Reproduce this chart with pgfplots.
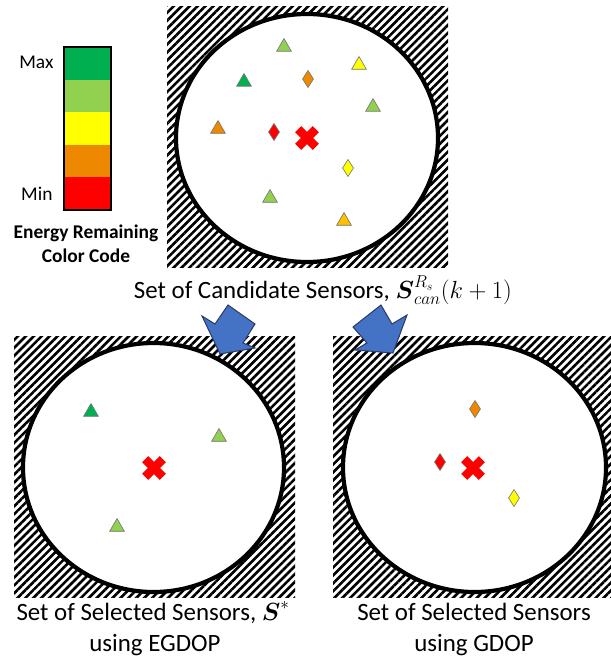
\documentclass[border=0pt]{standalone}
\usepackage{fontspec}
\setmainfont{Carlito}
\usepackage{amsmath,amssymb}
\usepackage{pgfplots}
\pgfplotsset{compat=1.18}
\usetikzlibrary{patterns.meta}

\definecolor{egreen}{HTML}{00B050}
\definecolor{elime}{HTML}{92D050}
\definecolor{eyellow}{HTML}{FFFF00}
\definecolor{eorange}{HTML}{EE8800}
\definecolor{eamber}{HTML}{FFC000}
\definecolor{ered}{HTML}{FF0000}
\definecolor{arrowblue}{HTML}{4472C4}
\definecolor{arrowedge}{HTML}{2A3A66}

\tikzset{
  hatch/.style={draw=none, pattern={Lines[angle=45,distance=5.6bp,line width=2.6bp]}, pattern color=black},
  rim/.style={line width=4.2bp, draw=black, fill=white},
}
\pgfplotsset{
  tri/.style={only marks, mark=triangle*, mark size=8.5bp, mark options={draw=black!55, line width=0.6bp}},
  dia/.style={only marks, mark=diamond*, mark size=8.5bp, mark options={xscale=0.85, draw=black!55, line width=0.6bp}},
  target/.style={only marks, mark=x, mark size=12.5bp, mark options={draw=ered, line width=8.5bp}},
  blockarrow/.style={fill=arrowblue, draw=arrowedge, line width=1bp, mark=none},
}

\begin{document}
\begin{tikzpicture}
\begin{axis}[
    width=611bp, height=663bp, scale only axis,
    xmin=0, xmax=611, ymin=0, ymax=663,
    y dir=reverse,
    hide axis, clip=false,
]
\path (rel axis cs:0,0) rectangle (rel axis cs:1,1);

% hatched sensing areas
\addplot[hatch] coordinates {(167,7) (448,7) (448,267) (167,267)} --cycle;
\addplot[hatch] coordinates {(14,336) (295,336) (295,597) (14,597)} --cycle;
\addplot[hatch] coordinates {(333,336) (611,336) (611,597) (333,597)} --cycle;

\draw[rim] (axis cs:307,138) ellipse [x radius=131, y radius=124];
\draw[rim] (axis cs:153.5,467.5) ellipse [x radius=130.5, y radius=124.5];
\draw[rim] (axis cs:474.5,467.5) ellipse [x radius=131.5, y radius=124.5];

% colour code bar
\addplot[fill=egreen, draw=none] coordinates {(64,47) (111,47) (111,79.6) (64,79.6)} --cycle;
\addplot[fill=elime, draw=none] coordinates {(64,79.6) (111,79.6) (111,112.2) (64,112.2)} --cycle;
\addplot[fill=eyellow, draw=none] coordinates {(64,112.2) (111,112.2) (111,144.8) (64,144.8)} --cycle;
\addplot[fill=eorange, draw=none] coordinates {(64,144.8) (111,144.8) (111,177.4) (64,177.4)} --cycle;
\addplot[fill=ered, draw=none] coordinates {(64,177.4) (111,177.4) (111,210) (64,210)} --cycle;
\addplot[draw=black, line width=1.5bp, fill=none] coordinates {(64,47) (111,47) (111,210) (64,210)} --cycle;

% candidate sensors
\addplot[tri, color=egreen] coordinates {(244,82)};
\addplot[tri, color=elime] coordinates {(284,47) (373,107) (270,198)};
\addplot[tri, color=eyellow] coordinates {(359,65)};
\addplot[tri, color=eorange] coordinates {(218,129)};
\addplot[tri, color=eamber] coordinates {(344,221)};
\addplot[dia, color=eorange] coordinates {(308,79)};
\addplot[dia, color=ered] coordinates {(274,132)};
\addplot[dia, color=eyellow] coordinates {(348,168)};
\addplot[target] coordinates {(307,138)};

% selected with EGDOP
\addplot[tri, color=egreen] coordinates {(91,412)};
\addplot[tri, color=elime] coordinates {(219,437) (117,527)};
\addplot[target] coordinates {(154,468)};

% selected with GDOP
\addplot[dia, color=eorange] coordinates {(475,409)};
\addplot[dia, color=ered] coordinates {(440,462)};
\addplot[dia, color=eyellow] coordinates {(514,498)};
\addplot[target] coordinates {(473,468)};

% block arrows
\addplot[blockarrow] coordinates {(202,316) (215,324) (228,305) (255,324) (243,343) (255,348) (220,354)} --cycle;
\addplot[blockarrow] coordinates {(353,327) (381,305) (392,324) (407,315) (393,353) (355,350) (367,343)} --cycle;

% text
\node[anchor=base east, font=\fontsize{19.5}{23}\selectfont] at (axis cs:57,69) {Max};
\node[anchor=base east, font=\fontsize{19.5}{23}\selectfont] at (axis cs:56,200) {Min};
\node[anchor=base, font=\bfseries\fontsize{19.5}{23}\selectfont] at (axis cs:86,238) {Energy Remaining};
\node[anchor=base, font=\bfseries\fontsize{19.5}{23}\selectfont] at (axis cs:86,262) {Color Code};

\node[anchor=base, font=\fontsize{25}{30}\selectfont] at (axis cs:323,298)
  {Set of Candidate Sensors, $\boldsymbol{S}^{R_s}_{can}(k+1)$};
\node[anchor=base, font=\fontsize{25}{30}\selectfont] at (axis cs:153,620)
  {Set of Selected Sensors, $\boldsymbol{S}^{*}$};
\node[anchor=base, font=\fontsize{25}{30}\selectfont] at (axis cs:155,651) {using EGDOP};
\node[anchor=base, font=\fontsize{25}{30}\selectfont] at (axis cs:474,620) {Set of Selected Sensors};
\node[anchor=base, font=\fontsize{25}{30}\selectfont] at (axis cs:474,651) {using GDOP};
\end{axis}
\end{tikzpicture}
\end{document}
